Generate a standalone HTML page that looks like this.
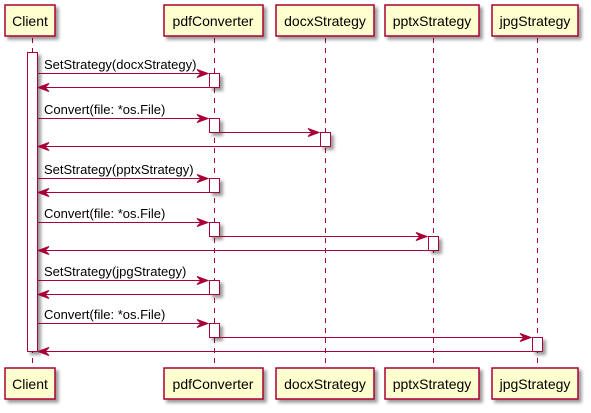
<!DOCTYPE html>
<html><head><style>html,body{margin:0;padding:0;background:#fff;}svg{display:block;}</style></head>
<body>
<svg width="591" height="413" viewBox="0 0 591 413" xmlns="http://www.w3.org/2000/svg" font-family="Liberation Sans, sans-serif" font-size="13">
<defs>
<filter id="sh" x="-20%" y="-20%" width="150%" height="150%"><feGaussianBlur in="SourceAlpha" stdDeviation="1.5"/><feOffset dx="3" dy="3"/><feComponentTransfer><feFuncA type="linear" slope="0.4"/></feComponentTransfer><feMerge><feMergeNode/><feMergeNode in="SourceGraphic"/></feMerge></filter>
</defs>
<g stroke="#A80036" stroke-width="1" stroke-dasharray="5,5">
<line x1="32.5" y1="38" x2="32.5" y2="368"/>
<line x1="214.5" y1="38" x2="214.5" y2="368"/>
<line x1="325.5" y1="38" x2="325.5" y2="368"/>
<line x1="433.5" y1="38" x2="433.5" y2="368"/>
<line x1="537.5" y1="38" x2="537.5" y2="368"/>
</g>
<g fill="#FEFECE" stroke="#A80036" stroke-width="1.5" filter="url(#sh)">
<rect x="5" y="5" width="50" height="31"/>
<rect x="164" y="5" width="99" height="31"/>
<rect x="276" y="5" width="98" height="31"/>
<rect x="385" y="5" width="94" height="31"/>
<rect x="492" y="5" width="86" height="31"/>
<rect x="5" y="368" width="50" height="31"/>
<rect x="164" y="368" width="99" height="31"/>
<rect x="276" y="368" width="98" height="31"/>
<rect x="385" y="368" width="94" height="31"/>
<rect x="492" y="368" width="86" height="31"/>
</g>
<g font-size="14" fill="#000" text-anchor="middle">
<text x="30" y="26">Client</text><text x="213" y="26">pdfConverter</text><text x="325" y="26">docxStrategy</text><text x="432" y="26">pptxStrategy</text><text x="535" y="26">jpgStrategy</text>
<text x="30" y="389">Client</text><text x="213" y="389">pdfConverter</text><text x="325" y="389">docxStrategy</text><text x="432" y="389">pptxStrategy</text><text x="535" y="389">jpgStrategy</text>
</g>
<g fill="#fff" stroke="#A80036" stroke-width="1" filter="url(#sh)">
<rect x="27.5" y="52.5" width="10" height="299"/>
<rect x="209.5" y="73.5" width="10" height="14"/>
<rect x="209.5" y="118.5" width="10" height="14"/>
<rect x="320.5" y="132.5" width="10" height="14"/>
<rect x="209.5" y="178.5" width="10" height="14"/>
<rect x="209.5" y="222.5" width="10" height="14"/>
<rect x="428.5" y="236.5" width="10" height="14"/>
<rect x="209.5" y="280.5" width="10" height="14"/>
<rect x="209.5" y="323.5" width="10" height="14"/>
<rect x="532.5" y="337.5" width="10" height="14"/>
</g>
<g stroke="#A80036" stroke-width="1" fill="#A80036">
<line x1="37" y1="73.5" x2="208" y2="73.5"/><polygon points="197,69.5 208,73.5 197,77.5 201,73.5"/>
<line x1="38" y1="87.5" x2="209" y2="87.5"/><polygon points="49,83.5 38,87.5 49,91.5 45,87.5"/>
<line x1="37" y1="118.5" x2="208" y2="118.5"/><polygon points="197,114.5 208,118.5 197,122.5 201,118.5"/>
<line x1="219" y1="132.5" x2="319" y2="132.5"/><polygon points="308,128.5 319,132.5 308,136.5 312,132.5"/>
<line x1="38" y1="146.5" x2="320" y2="146.5"/><polygon points="49,142.5 38,146.5 49,150.5 45,146.5"/>
<line x1="37" y1="178.5" x2="208" y2="178.5"/><polygon points="197,174.5 208,178.5 197,182.5 201,178.5"/>
<line x1="38" y1="192.5" x2="209" y2="192.5"/><polygon points="49,188.5 38,192.5 49,196.5 45,192.5"/>
<line x1="37" y1="222.5" x2="208" y2="222.5"/><polygon points="197,218.5 208,222.5 197,226.5 201,222.5"/>
<line x1="219" y1="236.5" x2="427" y2="236.5"/><polygon points="416,232.5 427,236.5 416,240.5 420,236.5"/>
<line x1="38" y1="250.5" x2="428" y2="250.5"/><polygon points="49,246.5 38,250.5 49,254.5 45,250.5"/>
<line x1="37" y1="280.5" x2="208" y2="280.5"/><polygon points="197,276.5 208,280.5 197,284.5 201,280.5"/>
<line x1="38" y1="294.5" x2="209" y2="294.5"/><polygon points="49,290.5 38,294.5 49,298.5 45,294.5"/>
<line x1="37" y1="323.5" x2="208" y2="323.5"/><polygon points="197,319.5 208,323.5 197,327.5 201,323.5"/>
<line x1="219" y1="337.5" x2="531" y2="337.5"/><polygon points="520,333.5 531,337.5 520,341.5 524,337.5"/>
<line x1="38" y1="351.5" x2="532" y2="351.5"/><polygon points="49,347.5 38,351.5 49,355.5 45,351.5"/>
</g>
<g fill="#000">
<text x="44" y="69">SetStrategy(docxStrategy)</text>
<text x="44" y="114">Convert(file: *os.File)</text>
<text x="44" y="174">SetStrategy(pptxStrategy)</text>
<text x="44" y="218">Convert(file: *os.File)</text>
<text x="44" y="276">SetStrategy(jpgStrategy)</text>
<text x="44" y="319">Convert(file: *os.File)</text>
</g>
</svg>
</body></html>
